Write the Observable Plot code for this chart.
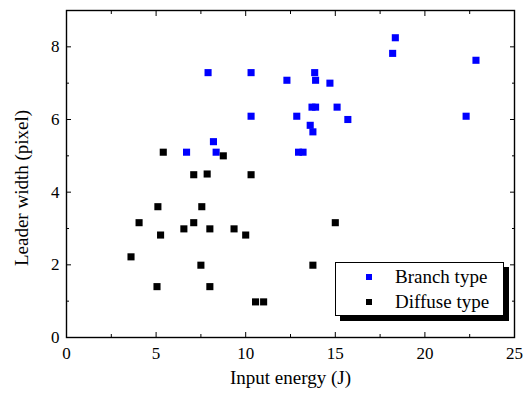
<!DOCTYPE html>
<html>
<head>
<meta charset="utf-8">
<script src="https://cdn.jsdelivr.net/npm/d3@7"></script>
<script src="https://cdn.jsdelivr.net/npm/@observablehq/plot@0.6"></script>
<style>
  html, body { margin: 0; padding: 0; background: white; font-family: 'Liberation Serif', serif; }
  #wrap { position: relative; width: 529px; height: 393px; font-family: 'Liberation Serif', serif; }
  #legend { position: absolute; left: 335px; top: 262px; width: 167px; height: 52px; border: 1px solid black; background: white; box-shadow: 5px 5px 0 black; font-size: 19px; font-family: 'Liberation Serif', serif; }
  .row { position: absolute; left: 0; height: 20px; line-height: 20px; }
  .sw { position: absolute; left: 30px; top: 7px; width: 6px; height: 6px; }
  .lt { position: absolute; left: 59px; top: 0; white-space: nowrap; font-family: 'Liberation Serif', serif; }
</style>
</head>
<body>
<div id="wrap"></div>
<script>
const branchX = [7.9, 10.3, 10.3, 8.2, 6.7, 8.35, 18.35, 18.2, 22.85, 13.85, 12.3, 13.9, 14.7, 13.7, 13.9, 15.1, 12.85, 15.7, 22.3, 13.6, 13.75, 12.95, 13.2];
const branchY = [7.29, 7.29, 6.09, 5.39, 5.10, 5.10, 8.25, 7.82, 7.63, 7.29, 7.08, 7.08, 7.0, 6.34, 6.34, 6.34, 6.09, 6.0, 6.09, 5.84, 5.66, 5.10, 5.10];
const diffuseX = [5.4, 7.1, 7.85, 8.75, 10.3, 3.6, 4.05, 5.1, 5.25, 5.05, 6.55, 7.1, 7.55, 7.5, 8.0, 8.0, 9.35, 10.0, 10.55, 11.0, 15.0, 13.75];
const diffuseY = [5.10, 4.48, 4.5, 5.0, 4.48, 2.22, 3.16, 3.6, 2.82, 1.4, 2.99, 3.16, 3.6, 1.99, 2.99, 1.4, 2.99, 2.82, 0.98, 0.98, 3.16, 1.99];
const seriesNames = ["Branch type", "Diffuse type"];
const seriesColors = ["#0000ff", "#000000"];
const xMajor = [0, 5, 10, 15, 20, 25];
const xMinor = [2.5, 7.5, 12.5, 17.5, 22.5];
const yMajor = [0, 2, 4, 6, 8];
const yMinor = [1, 3, 5, 7];
const xLabel = "Input energy (J)";
const yLabel = "Leader width (pixel)";

const branch = branchX.map((x, i) => ({x, y: branchY[i]}));
const diffuse = diffuseX.map((x, i) => ({x, y: diffuseY[i]}));
const blank = () => "";
const serif = "'Liberation Serif', serif";

const chart = Plot.plot({
  width: 529,
  height: 393,
  marginLeft: 66,
  marginRight: 15,
  marginTop: 10,
  marginBottom: 56,
  style: {fontFamily: serif, fontSize: "17px", background: "white", color: "black"},
  x: {domain: [0, 25]},
  y: {domain: [0, 9]},
  marks: [
    Plot.frame({stroke: "black", strokeWidth: 1.4}),
    Plot.axisX(xMajor, {anchor: "bottom", tickSize: -5, tickPadding: 14, label: null, fontSize: 17, fontFamily: serif}),
    Plot.axisX(xMinor, {anchor: "bottom", tickSize: -3, tickFormat: blank, label: null}),
    Plot.axisX(xMajor, {anchor: "top", tickSize: -5, tickFormat: blank, label: null}),
    Plot.axisX(xMinor, {anchor: "top", tickSize: -3, tickFormat: blank, label: null}),
    Plot.axisY(yMajor, {anchor: "left", tickSize: -5, tickPadding: 12, label: null, fontSize: 17, fontFamily: serif}),
    Plot.axisY(yMinor, {anchor: "left", tickSize: -3, tickFormat: blank, label: null}),
    Plot.axisY(yMajor, {anchor: "right", tickSize: -5, tickFormat: blank, label: null}),
    Plot.axisY(yMinor, {anchor: "right", tickSize: -3, tickFormat: blank, label: null}),
    Plot.dot(branch, {x: "x", y: "y", symbol: "square", r: 4, fill: seriesColors[0], stroke: null}),
    Plot.dot(diffuse, {x: "x", y: "y", symbol: "square", r: 4, fill: seriesColors[1], stroke: null}),
    Plot.text([xLabel], {frameAnchor: "bottom", lineAnchor: "middle", textAnchor: "middle", dy: 40, fontSize: 19, fontFamily: serif, text: d => d}),
    Plot.text([yLabel], {frameAnchor: "left", lineAnchor: "middle", textAnchor: "middle", dx: -45, dy: 14, rotate: -90, fontSize: 19, fontFamily: serif, text: d => d})
  ]
});

const wrap = document.getElementById("wrap");
wrap.appendChild(chart);

const legend = document.createElement("div");
legend.id = "legend";
seriesNames.forEach((name, i) => {
  const row = document.createElement("div");
  row.className = "row";
  row.style.top = (4 + i * 25) + "px";
  const sw = document.createElement("div");
  sw.className = "sw";
  sw.style.background = seriesColors[i];
  const lt = document.createElement("div");
  lt.className = "lt";
  lt.textContent = name;
  row.appendChild(sw);
  row.appendChild(lt);
  legend.appendChild(row);
});
wrap.appendChild(legend);
</script>
</body>
</html>
